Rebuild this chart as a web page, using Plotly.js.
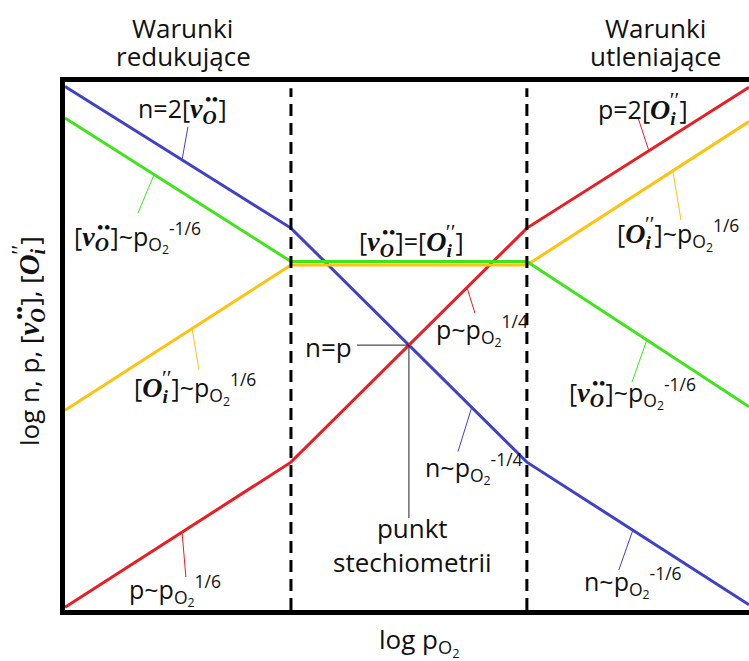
<!DOCTYPE html>
<html>
<head>
<meta charset="utf-8">
<script src="https://cdn.plot.ly/plotly-3.0.1.min.js"></script>
<style>
  body { margin: 0; background: #fff; }
  #plot { width: 749px; height: 661px; }
</style>
</head>
<body>
<div id="plot"></div>
<script>
// log pO2 (arbitrary units) at the break points of the Brouwer diagram
const logPO2 = [0, 10, 20.44, 30.27];

// log concentrations
const nValues = [5.95, 4.34, 1.68, 0.06];   // electrons
const pValues = [0.03, 1.68, 4.34, 5.94];   // holes
const vValues = [5.59, 3.96, 3.96, 2.31];   // oxygen vacancies
const oValues = [2.27, 3.92, 3.92, 5.55];   // interstitial oxygen

const boundaries = [10, 20.44];
const boundaryTop = 5.93;

const blue = '#4141c6';
const red = '#ec1c24';
const green = '#3fe41a';
const yellow = '#ffc20e';

const LAB = 25;

// Kröger-Vink symbols; negative letter-spacing puts the charge marks over the subscript
function vO(size = LAB) {
    const s = Math.round(size * 1.12);
    return '[<span style="font-family:\'Liberation Serif\';font-size:' + s + 'px"><b><i>v</i></b>' +
        '<sub style="letter-spacing:-' + Math.round(s * 0.43) + 'px"><b><i>O</i></b></sub><sup>••</sup></span>]';
}
function Oi(size = LAB) {
    const s = Math.round(size * 1.12);
    return '[<span style="font-family:\'Liberation Serif\';font-size:' + s + 'px"><b><i>O</i></b>' +
        '<sub style="letter-spacing:-' + Math.round(s * 0.2) + 'px"><b><i>i</i></b></sub>' +
        '<sup><span style="font-size:' + Math.round(s * 0.8) + 'px">′′</span></sup></span>]';
}
const pO2 = 'p<sub>O<sub>2</sub></sub>';

function interp(xs, ys, x) {
    for (let i = 0; i < xs.length - 1; i++) {
        if (x >= xs[i] && x <= xs[i + 1]) {
            return ys[i] + (ys[i + 1] - ys[i]) * (x - xs[i]) / (xs[i + 1] - xs[i]);
        }
    }
    return ys[ys.length - 1];
}

const data = [
    {x: logPO2, y: nValues, color: blue},
    {x: logPO2, y: pValues, color: red},
    {x: logPO2, y: oValues, color: yellow},
    {x: logPO2, y: vValues, color: green},
].map(s => ({
    x: s.x, y: s.y, type: 'scatter', mode: 'lines',
    line: {color: s.color, width: 3}, hoverinfo: 'skip'
}));

boundaries.forEach(b => {
    data.push({
        x: [b, b], y: [0, boundaryTop], type: 'scatter', mode: 'lines',
        line: {color: '#000', width: 3, dash: '12px,7px'}, hoverinfo: 'skip'
    });
});

// leader lines: curve, x on curve, far end
const leaders = [
    [nValues, 5.18, 5.44, 5.49, blue],
    [vValues, 3.94, 3.23, 4.51, green],
    [oValues, 5.62, 5.93, 2.73, yellow],
    [pValues, 5.18, 5.35, 0.375, red],
    [pValues, 17.79, 18.14, 3.375, red],
    [nValues, 18.0, 17.39, 1.80, blue],
    [pValues, 25.84, 25.35, 5.60, red],
    [oValues, 26.9, 27.26, 4.43, yellow],
    [vValues, 25.75, 25.09, 2.59, green],
    [nValues, 25.13, 24.51, 0.455, blue],
];

const shapes = leaders.map(l => ({
    type: 'line', xref: 'x', yref: 'y', layer: 'above',
    x0: l[1], y0: interp(logPO2, l[0], l[1]), x1: l[2], y1: l[3],
    line: {color: l[4], width: 1}
}));

// n = p crossing
const xCross = 10 + (nValues[1] - pValues[1]) / ((nValues[1] - nValues[2]) / (logPO2[2] - logPO2[1]) * 2);
const yCross = interp(logPO2, nValues, xCross);
shapes.push({type: 'line', xref: 'x', yref: 'y', layer: 'above', x0: 12.92, y0: yCross, x1: xCross, y1: yCross, line: {color: '#222', width: 1}});
shapes.push({type: 'line', xref: 'x', yref: 'y', layer: 'above', x0: xCross, y0: yCross, x1: xCross, y1: 1.045, line: {color: '#222', width: 1}});

const labels = [
    [5.22, 5.70, 'n=2' + vO(), LAB],
    [3.19, 4.24, vO() + '~' + pO2 + '<sup>-1/6</sup>', LAB],
    [15.35, 4.20, vO() + '=' + Oi(), LAB],
    [5.75, 2.53, Oi() + '~' + pO2 + '<sup>1/6</sup>', LAB],
    [4.87, 0.23, 'p~' + pO2 + '<sup>1/6</sup>', LAB],
    [11.64, 2.99, 'n=p', 26],
    [15.4, 0.74, 'punkt<br>stechiometrii', 26],
    [18.44, 3.18, 'p~' + pO2 + '<sup>1/4</sup>', LAB],
    [18.09, 1.61, 'n~' + pO2 + '<sup>-1/4</sup>', LAB],
    [25.6, 5.72, 'p=2' + Oi(), LAB],
    [27.12, 4.28, Oi() + '~' + pO2 + '<sup>1/6</sup>', LAB],
    [25.13, 2.47, vO() + '~' + pO2 + '<sup>-1/6</sup>', LAB],
    [25.13, 0.32, 'n~' + pO2 + '<sup>-1/6</sup>', LAB],
];

const fontOf = size => ({family: 'Open Sans, sans-serif', size: size, color: '#111'});

const annotations = labels.map(l => ({
    x: l[0], y: l[1], xref: 'x', yref: 'y', text: l[2], showarrow: false,
    xanchor: 'center', yanchor: 'middle', font: fontOf(l[3])
}));

// texts outside the frame placed in pixels, converted to paper units
const plotW = 749 - 65, plotH = 661 - 82 - 51;
const px = (x, y) => ({x: (x - 65) / plotW, y: (661 - 51 - y) / plotH});
const outside = [
    [182, 28, 'Warunki', 26, 0],
    [183, 56, 'redukujące', 26, 0],
    [655, 28, 'Warunki', 26, 0],
    [655, 56, 'utleniające', 26, 0],
    [419, 641, 'log ' + pO2, 26, 0],
    [28, 341, 'log n, p, ' + vO(26) + ', ' + Oi(26), 26, -90],
];
outside.forEach(o => {
    annotations.push(Object.assign({
        xref: 'paper', yref: 'paper', xanchor: 'center', yanchor: 'middle', showarrow: false,
        text: o[2], font: fontOf(o[3]), textangle: o[4]
    }, px(o[0], o[1])));
});

const layout = {
    width: 749, height: 661,
    margin: {l: 65, r: 0, t: 82, b: 51},
    paper_bgcolor: '#fff', plot_bgcolor: '#fff',
    showlegend: false,
    xaxis: {range: [0, 30.27], showline: true, mirror: true, linewidth: 5, linecolor: '#000',
            showgrid: false, zeroline: false, showticklabels: false, ticks: ''},
    yaxis: {range: [0, 6], showline: true, linewidth: 5, linecolor: '#000',
            showgrid: false, zeroline: false, showticklabels: false, ticks: ''},
    shapes: shapes,
    annotations: annotations
};

Plotly.newPlot('plot', data, layout, {staticPlot: true});
</script>
</body>
</html>
